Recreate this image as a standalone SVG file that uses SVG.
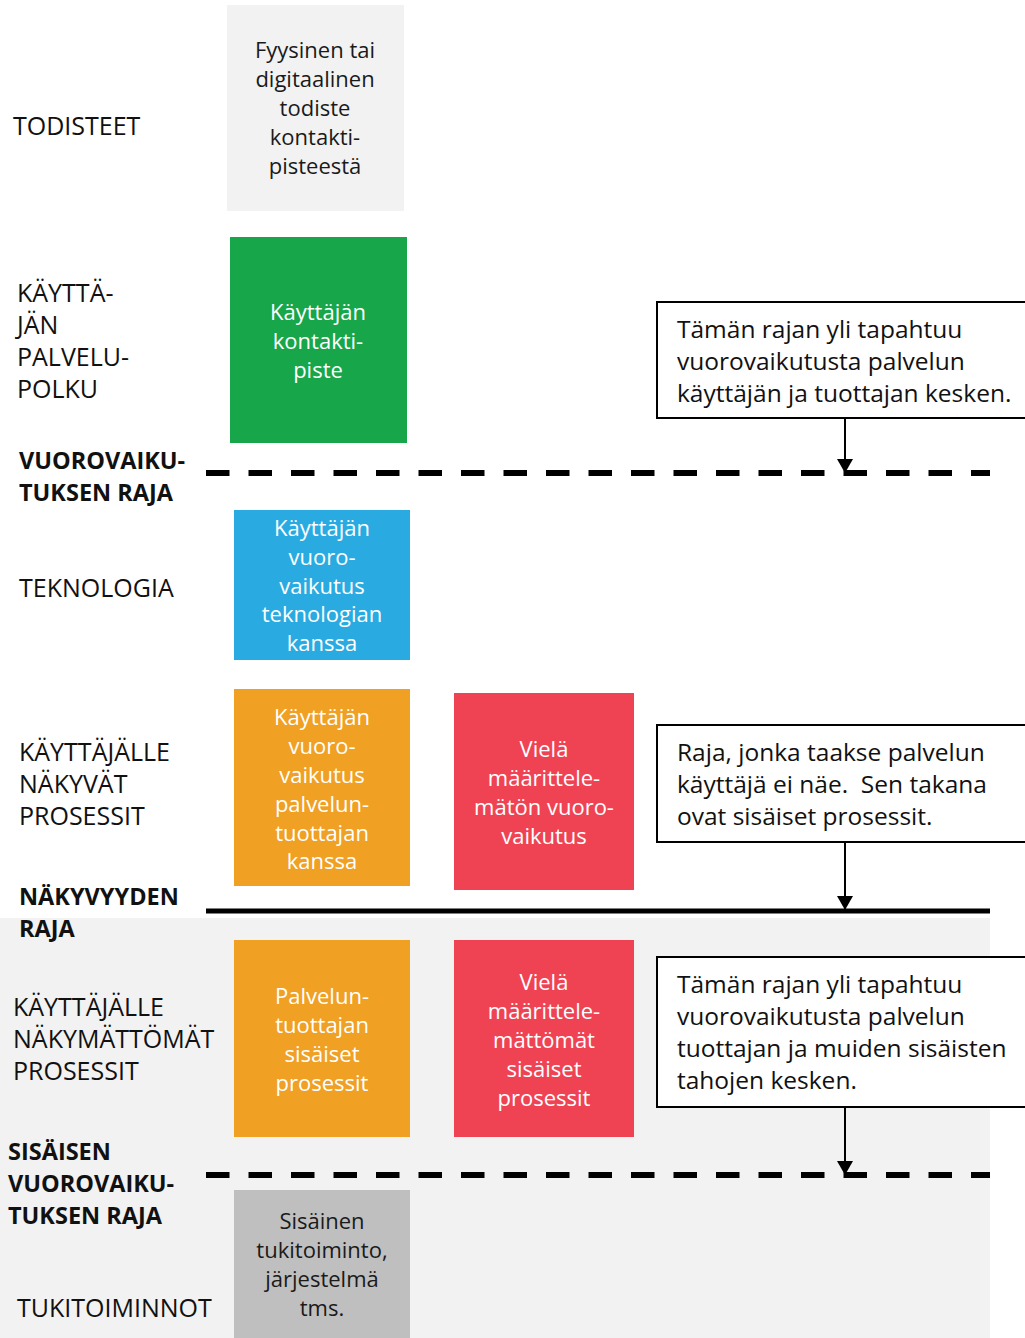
<svg xmlns="http://www.w3.org/2000/svg" width="1025" height="1338" viewBox="0 0 1025 1338">
  <defs>
    <style>
      .lbl { font-family: "Open Sans", "Noto Sans", "Liberation Sans", sans-serif; font-size: 25px; fill: #111; }
      .bold { font-weight: bold; font-size: 23.5px; }
      .ct { font-family: "Open Sans", "Noto Sans", "Liberation Sans", sans-serif; font-size: 24.5px; fill: #111; }
      .nt { font-family: "Open Sans", "Noto Sans", "Liberation Sans", sans-serif; font-size: 22px; text-anchor: middle; }
      .w { fill: #ffffff; }
      .d { fill: #1a1a1a; }
      .call { fill: #ffffff; stroke: #000; stroke-width: 2; }
      .dash { stroke: #000; stroke-width: 6; stroke-dasharray: 23.5 19; fill: none; }
      .solid { stroke: #000; stroke-width: 5; fill: none; }
      .arr { stroke: #000; stroke-width: 2; fill: none; marker-end: url(#ah); }
    </style>
    <marker id="ah" viewBox="0 0 14 16" refX="14" refY="8" markerWidth="14" markerHeight="16" markerUnits="userSpaceOnUse" orient="auto">
      <path d="M0,0 L14,8 L0,16 Z" fill="#000"/>
    </marker>
  </defs>

  <!-- back-office zone background -->
  <rect x="0" y="918" width="990" height="420" fill="#f2f2f2"/>

  <!-- row labels -->
  <g id="row-labels">
    <text class="lbl" x="13" y="135">TODISTEET</text>
    <text class="lbl" x="17" y="302">KÄYTTÄ-</text>
    <text class="lbl" x="17" y="334">JÄN</text>
    <text class="lbl" x="17" y="366">PALVELU-</text>
    <text class="lbl" x="17" y="398">POLKU</text>
    <text class="lbl bold" x="19" y="469">VUOROVAIKU-</text>
    <text class="lbl bold" x="19" y="501">TUKSEN RAJA</text>
    <text class="lbl" x="19" y="597">TEKNOLOGIA</text>
    <text class="lbl" x="19" y="761">KÄYTTÄJÄLLE</text>
    <text class="lbl" x="19" y="793">NÄKYVÄT</text>
    <text class="lbl" x="19" y="825">PROSESSIT</text>
    <text class="lbl bold" x="19" y="905">NÄKYVYYDEN</text>
    <text class="lbl bold" x="19" y="937">RAJA</text>
    <text class="lbl" x="13" y="1016">KÄYTTÄJÄLLE</text>
    <text class="lbl" x="13" y="1048">NÄKYMÄTTÖMÄT</text>
    <text class="lbl" x="13" y="1080">PROSESSIT</text>
    <text class="lbl bold" x="8" y="1160">SISÄISEN</text>
    <text class="lbl bold" x="8" y="1192">VUOROVAIKU-</text>
    <text class="lbl bold" x="8" y="1224">TUKSEN RAJA</text>
    <text class="lbl" x="17" y="1317">TUKITOIMINNOT</text>
  </g>

  <!-- boundary lines and callout arrows -->
  <g id="connectors">
    <line class="dash" x1="206" y1="473" x2="990" y2="473"/>
    <line class="solid" x1="206" y1="911" x2="990" y2="911"/>
    <line class="dash" x1="206" y1="1175" x2="990" y2="1175"/>
    <line class="arr" x1="845" y1="419" x2="845" y2="473"/>
    <line class="arr" x1="845" y1="843" x2="845" y2="910"/>
    <line class="arr" x1="845" y1="1107" x2="845" y2="1175"/>
  </g>

  <g id="evidence">
    <rect x="227" y="5" width="177" height="206" fill="#f2f2f2"/>
    <text class="nt d" x="315" y="58">Fyysinen tai</text>
    <text class="nt d" x="315" y="87">digitaalinen</text>
    <text class="nt d" x="315" y="116">todiste</text>
    <text class="nt d" x="315" y="145">kontakti-</text>
    <text class="nt d" x="315" y="174">pisteestä</text>
  </g>

  <g id="touchpoint">
    <rect x="230" y="237" width="177" height="206" fill="#17a64a"/>
    <text class="nt w" x="318" y="320">Käyttäjän</text>
    <text class="nt w" x="318" y="349">kontakti-</text>
    <text class="nt w" x="318" y="378">piste</text>
  </g>

  <g id="technology">
    <rect x="234" y="510" width="176" height="150" fill="#29abe2"/>
    <text class="nt w" x="322" y="536">Käyttäjän</text>
    <text class="nt w" x="322" y="565">vuoro-</text>
    <text class="nt w" x="322" y="594">vaikutus</text>
    <text class="nt w" x="322" y="622">teknologian</text>
    <text class="nt w" x="322" y="651">kanssa</text>
  </g>

  <g id="visible-process">
    <rect x="234" y="689" width="176" height="197" fill="#f0a023"/>
    <text class="nt w" x="322" y="725">Käyttäjän</text>
    <text class="nt w" x="322" y="754">vuoro-</text>
    <text class="nt w" x="322" y="783">vaikutus</text>
    <text class="nt w" x="322" y="812">palvelun-</text>
    <text class="nt w" x="322" y="841">tuottajan</text>
    <text class="nt w" x="322" y="869">kanssa</text>
  </g>

  <g id="undefined-interaction">
    <rect x="454" y="693" width="180" height="197" fill="#ef4354"/>
    <text class="nt w" x="544" y="757">Vielä</text>
    <text class="nt w" x="544" y="786">määrittele-</text>
    <text class="nt w" x="544" y="815">mätön vuoro-</text>
    <text class="nt w" x="544" y="844">vaikutus</text>
  </g>

  <g id="internal-process">
    <rect x="234" y="940" width="176" height="197" fill="#f0a023"/>
    <text class="nt w" x="322" y="1004">Palvelun-</text>
    <text class="nt w" x="322" y="1033">tuottajan</text>
    <text class="nt w" x="322" y="1062">sisäiset</text>
    <text class="nt w" x="322" y="1091">prosessit</text>
  </g>

  <g id="undefined-internal">
    <rect x="454" y="940" width="180" height="197" fill="#ef4354"/>
    <text class="nt w" x="544" y="990">Vielä</text>
    <text class="nt w" x="544" y="1019">määrittele-</text>
    <text class="nt w" x="544" y="1048">mättömät</text>
    <text class="nt w" x="544" y="1077">sisäiset</text>
    <text class="nt w" x="544" y="1106">prosessit</text>
  </g>

  <g id="support">
    <rect x="234" y="1190" width="176" height="148" fill="#bfbfbf"/>
    <text class="nt d" x="322" y="1229">Sisäinen</text>
    <text class="nt d" x="322" y="1258">tukitoiminto,</text>
    <text class="nt d" x="322" y="1287">järjestelmä</text>
    <text class="nt d" x="322" y="1316">tms.</text>
  </g>

  <g id="note-interaction">
    <rect class="call" x="657" y="302" width="380" height="116"/>
    <text class="ct" x="677" y="338">Tämän rajan yli tapahtuu</text>
    <text class="ct" x="677" y="370">vuorovaikutusta palvelun</text>
    <text class="ct" x="677" y="402">käyttäjän ja tuottajan kesken.</text>
  </g>

  <g id="note-visibility">
    <rect class="call" x="657" y="725" width="380" height="117"/>
    <text class="ct" x="677" y="761">Raja, jonka taakse palvelun</text>
    <text class="ct" x="677" y="793" xml:space="preserve">käyttäjä ei näe.  Sen takana</text>
    <text class="ct" x="677" y="825">ovat sisäiset prosessit.</text>
  </g>

  <g id="note-internal">
    <rect class="call" x="657" y="957" width="380" height="150"/>
    <text class="ct" x="677" y="993">Tämän rajan yli tapahtuu</text>
    <text class="ct" x="677" y="1025">vuorovaikutusta palvelun</text>
    <text class="ct" x="677" y="1057">tuottajan ja muiden sisäisten</text>
    <text class="ct" x="677" y="1089">tahojen kesken.</text>
  </g>
</svg>
